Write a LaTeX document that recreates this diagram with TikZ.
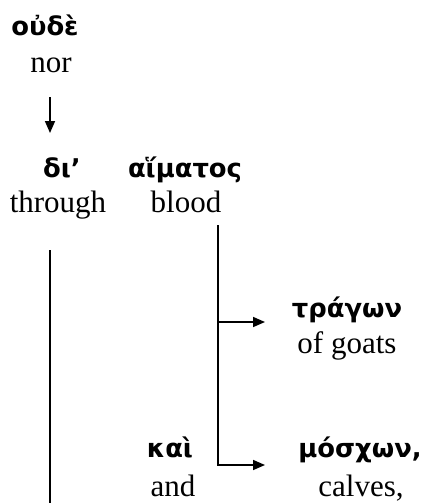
\documentclass[tikz,border=0pt]{standalone}
\usepackage{fontspec}
\setmainfont{Liberation Serif}
\newfontfamily\greekfont[Script=Greek]{DejaVu Sans}
\usetikzlibrary{arrows.meta}

\newcommand*{\trunkx}{50}
\newcommand*{\branchx}{218}
\newcommand*{\tipx}{265}

\begin{document}
\begin{tikzpicture}
[
	x=0.5pt, y=-0.5pt,
	gk/.style={anchor=base,inner sep=0pt,font=\greekfont\bfseries\fontsize{12.9}{14}\selectfont},
	gl/.style={anchor=base,inner sep=0pt,font=\fontsize{15.5}{18}\selectfont},
	arr/.style={-{Triangle[length=6pt,width=5pt]},line width=0.8pt},
	ln/.style={line width=0.8pt}
]
	\useasboundingbox (0,0) rectangle (424,503);

	% words
	\node[gk] (oude) at (45,35) {οὐδὲ};
	\node[gl] (nor) at (51,72) {nor};
	\node[gk] (di) at (62,177) {δι’};
	\node[gl] (through) at (58,212) {through};
	\node[gk] (haimatos) at (185,177) {αἵματος};
	\node[gl] (blood) at (186,212) {blood};
	\node[gk] (tragon) at (347,317) {τράγων};
	\node[gl] (goats) at (347,353) {of goats};
	\node[gk] (kai) at (170,457) {καὶ};
	\node[gl] (and) at (173,496) {and};
	\node[gk] (moschon) at (360,457) {μόσχων,};
	\node[gl] (calves) at (361,496) {calves,};

	% points on the lines
	\coordinate (a1) at (\trunkx,97);
	\coordinate (a2) at (\trunkx,133);
	\coordinate (t1) at (\trunkx,250);
	\coordinate (t2) at (\trunkx,503);
	\coordinate (b1) at (\branchx,225);
	\coordinate (b2) at (\branchx,322);
	\coordinate (b3) at (\branchx,465);

	% lines
	\draw[arr] (a1) -- (a2);
	\draw[ln] (t1) -- (t2);
	\draw[ln] (b1) -- (b2);
	\draw[arr] (b2) -- (\tipx,322);
	\draw[arr] (b2) -- (b3) -- (\tipx,465);

\end{tikzpicture}
\end{document}
